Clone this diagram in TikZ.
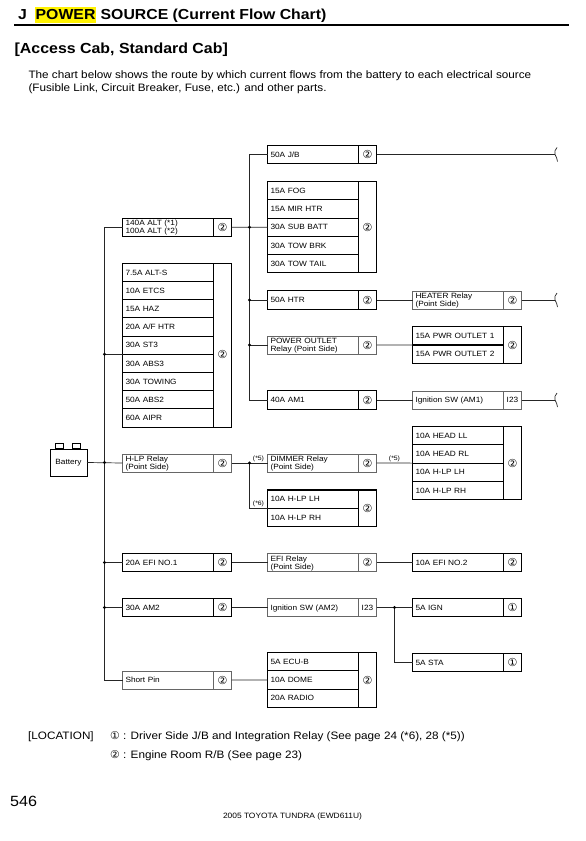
\documentclass[tikz,border=0pt]{standalone}
\usepackage{fontspec}
\setmainfont{Liberation Sans}[FakeStretch=1.09]
\newfontfamily\symfont{DejaVu Sans}
\usetikzlibrary{positioning}

\newcommand{\cellfont}{\fontsize{7.6}{8}\selectfont}
\newcommand{\locone}{{\symfont\fontsize{11}{11}\selectfont ①}}
\newcommand{\loctwo}{{\symfont\fontsize{11}{11}\selectfont ②}}

\tikzset{
  cell/.style={minimum height=18.2pt, inner xsep=3pt, inner ysep=0pt, outer sep=0pt,
    text width=85pt, align=left, text height=5.5pt, text depth=0pt, font=\cellfont},
  two/.style={text depth=8pt},
  fuse/.style={cell, draw, line width=1.1pt, anchor=west},
  relay/.style={cell, draw=black!60, line width=0.6pt, anchor=west},
  loc/.style={minimum width=18pt, minimum height=18.2pt, inner sep=0pt, outer sep=0pt, font=\cellfont},
  fuseloc/.style={loc, draw, line width=1.1pt, anchor=west},
  relayloc/.style={loc, draw=black!60, line width=0.6pt, anchor=west},
  wire/.style={draw=black!85, line width=0.7pt},
  dot/.style={circle, fill=black, inner sep=0pt, minimum size=3.2pt},
  note/.style={font=\fontsize{6.3}{6.3}\selectfont, inner sep=0.6pt, anchor=south},
  brk/.pic={\draw[wire] (2,-7) .. controls (-0.5,-5) and (-0.5,-2) .. (0,0) .. controls (0.5,2.5) and (3,4) .. (2.5,7);}
}

\begin{document}
\begin{tikzpicture}[x=1pt, y=-1pt]
\useasboundingbox (0,0) rectangle (586,841);

% heading
\node[anchor=base west, inner sep=0pt, font=\fontsize{14.5}{16}\selectfont\bfseries] (jlet) at (18,19) {J};
\node[anchor=base west, fill=yellow, inner xsep=0.5pt, inner ysep=0pt, text height=12.3pt, text depth=4.3pt,
  font=\fontsize{14.5}{16}\selectfont\bfseries] (power) at (35,19) {POWER};
\node[anchor=base west, inner sep=0pt, font=\fontsize{14.5}{16}\selectfont\bfseries] (ttl) at (power.base east) {\ SOURCE (Current Flow Chart)};
\draw[line width=1.7pt] (14,25) -- (568.5,25);
\node[anchor=base west, inner sep=0pt, font=\fontsize{14.6}{16}\selectfont\bfseries] (cab) at (14.5,53.3) {[Access Cab, Standard Cab]};
\node[anchor=base west, inner sep=0pt, font=\fontsize{10.75}{13}\selectfont] (par1) at (28.3,78.3)
  {The chart below shows the route by which current flows from the battery to each electrical source};
\node[anchor=base west, inner sep=0pt, font=\fontsize{10.75}{13}\selectfont] (par2) at (28.3,91.7)
  {(Fusible Link, Circuit Breaker, Fuse, etc.) and other parts.};

% bus lines
\coordinate (busA) at (104.5,0);
\coordinate (busB) at (249.5,0);
\coordinate (busC) at (394.5,0);
\coordinate (end1) at (555,154.5);
\coordinate (end2) at (555,300);
\coordinate (end3) at (555,400);

% battery
\node[draw, line width=0.9pt, minimum width=37pt, minimum height=27pt, inner sep=0pt, outer sep=0pt, font=\cellfont] (batt) at (68.5,462.5) {Battery};
\node[draw, line width=0.8pt, minimum width=8pt, minimum height=5pt, inner sep=0pt, anchor=south] (batt1) at ([xshift=-8.8pt]batt.north) {};
\node[draw, line width=0.8pt, minimum width=8pt, minimum height=5pt, inner sep=0pt, anchor=south] (batt2) at ([xshift=8.2pt]batt.north) {};

% first column
\node[fuse, two] (alt) at (122.5,227.2) {140A ALT (*1)\\100A ALT (*2)};
\node[fuseloc] (altL) at (alt.east) {\loctwo};
\foreach \t [count=\i] in {7.5A ALT-S,10A ETCS,15A HAZ,20A A/F HTR,30A ST3,30A ABS3,30A TOWING,50A ABS2,60A AIPR}
  \node[fuse, anchor=north west] (a\i) at (122.5,{263.3+(\i-1)*18.2}) {\t};
\node[fuseloc, anchor=north west, minimum height=9*18.2pt] (aL) at (a1.north east) {};
\node[loc] (aN) at (aL.center |- a5.south) {\loctwo};
\node[relay, two] (hlp) at (122.5,463) {H-LP Relay\\(Point Side)};
\node[relayloc] (hlpL) at (hlp.east) {\loctwo};
\node[fuse] (efi1) at (122.5,562.5) {20A EFI NO.1};
\node[fuseloc] (efi1L) at (efi1.east) {\loctwo};
\node[fuse] (am2) at (122.5,607.5) {30A AM2};
\node[fuseloc] (am2L) at (am2.east) {\loctwo};
\node[relay] (spin) at (122.5,680) {Short Pin};
\node[relayloc] (spinL) at (spin.east) {\loctwo};

% second column
\node[fuse] (jb) at (267.5,154.5) {50A J/B};
\node[fuseloc] (jbL) at (jb.east) {\loctwo};
\foreach \t [count=\i] in {15A FOG,15A MIR HTR,30A SUB BATT,30A TOW BRK,30A TOW TAIL}
  \node[fuse, anchor=north west] (b\i) at (267.5,{181.7+(\i-1)*18.2}) {\t};
\node[fuseloc, anchor=north west, minimum height=5*18.2pt] (bL) at (b1.north east) {\loctwo};
\node[fuse] (htr) at (267.5,300) {50A HTR};
\node[fuseloc] (htrL) at (htr.east) {\loctwo};
\node[relay, two] (po) at (267.5,345) {POWER OUTLET\\Relay (Point Side)};
\node[relayloc] (poL) at (po.east) {\loctwo};
\node[fuse] (am1) at (267.5,400) {40A AM1};
\node[fuseloc] (am1L) at (am1.east) {\loctwo};
\node[relay, two] (dim) at (267.5,463) {DIMMER Relay\\(Point Side)};
\node[relayloc] (dimL) at (dim.east) {\loctwo};
\foreach \t [count=\i] in {10A H-LP LH,10A H-LP RH}
  \node[fuse, anchor=north west] (h\i) at (267.5,{490+(\i-1)*18.2}) {\t};
\node[fuseloc, anchor=north west, minimum height=2*18.2pt] (hL) at (h1.north east) {\loctwo};
\node[relay, two] (efir) at (267.5,562.5) {EFI Relay\\(Point Side)};
\node[relayloc] (efirL) at (efir.east) {\loctwo};
\node[relay] (ig2) at (267.5,607.5) {Ignition SW (AM2)};
\node[relayloc] (ig2L) at (ig2.east) {I23};
\foreach \t [count=\i] in {5A ECU-B,10A DOME,20A RADIO}
  \node[fuse, anchor=north west] (e\i) at (267.5,{652.7+(\i-1)*18.2}) {\t};
\node[fuseloc, anchor=north west, minimum height=3*18.2pt] (eL) at (e1.north east) {\loctwo};

% third column
\node[relay, two] (heat) at (412.5,300) {HEATER Relay\\(Point Side)};
\node[relayloc] (heatL) at (heat.east) {\loctwo};
\foreach \t [count=\i] in {15A PWR OUTLET 1,15A PWR OUTLET 2}
  \node[fuse, anchor=north west] (p\i) at (412.5,{326.8+(\i-1)*18.2}) {\t};
\node[fuseloc, anchor=north west, minimum height=2*18.2pt] (pL) at (p1.north east) {\loctwo};
\node[relay] (ig1) at (412.5,400) {Ignition SW (AM1)};
\node[relayloc] (ig1L) at (ig1.east) {I23};
\foreach \t [count=\i] in {10A HEAD LL,10A HEAD RL,10A H-LP LH,10A H-LP RH}
  \node[fuse, anchor=north west] (c\i) at (412.5,{426.7+(\i-1)*18.2}) {\t};
\node[fuseloc, anchor=north west, minimum height=4*18.2pt] (cL) at (c1.north east) {\loctwo};
\node[fuse] (efi2) at (412.5,562.5) {10A EFI NO.2};
\node[fuseloc] (efi2L) at (efi2.east) {\loctwo};
\node[fuse] (ign) at (412.5,607.5) {5A IGN};
\node[fuseloc] (ignL) at (ign.east) {\locone};
\node[fuse] (sta) at (412.5,662.5) {5A STA};
\node[fuseloc] (staL) at (sta.east) {\locone};

% wires
\draw[wire] (alt.west) -| (busA |- spin.west) -- (spin.west);
\draw[wire] (batt.east) -- (hlp.west);
\draw[wire] (busA |- a5.south) -- (a5.south west);
\draw[wire] (busA |- efi1.west) -- (efi1.west);
\draw[wire] (busA |- am2.west) -- (am2.west);
\draw[wire] (jb.west) -| (busB |- am1.west) -- (am1.west);
\draw[wire] (altL.east) -- (b3.west);
\draw[wire] (busB |- htr.west) -- (htr.west);
\draw[wire] (busB |- po.west) -- (po.west);
\draw[wire] (jbL.east) -- (end1);
\draw[wire] (htrL.east) -- (heat.west);
\draw[wire] (heatL.east) -- (end2);
\draw[wire] (poL.east) -- (p1.south west);
\draw[wire] (am1L.east) -- (ig1.west);
\draw[wire] (ig1L.east) -- (end3);
\draw[wire] (hlpL.east) -- (dim.west);
\draw[wire] (busB |- dim.west) |- (h1.south west);
\draw[wire] (dimL.east) -- (c2.south west);
\draw[wire] (efi1L.east) -- (efir.west);
\draw[wire] (efirL.east) -- (efi2.west);
\draw[wire] (am2L.east) -- (ig2.west);
\draw[wire] (ig2L.east) -- (ign.west);
\draw[wire] (busC |- ign.west) |- (sta.west);
\draw[wire] (spinL.east) -- (e2.west);
\pic at (end1) {brk};
\pic at (end2) {brk};
\pic at (end3) {brk};

% junctions
\foreach \p in {a5.south, batt.east, efi1.west, am2.west}
  \node[dot] at (busA |- \p) {};
\foreach \p in {alt.east, htr.west, po.west, dim.west}
  \node[dot] at (busB |- \p) {};
\node[dot] at (busC |- ign.west) {};

% notes
\node[note] (n5a) at ([xshift=9pt, yshift=0.6pt]busB |- dim.west) {(*5)};
\node[note] (n6) at ([xshift=9pt, yshift=0.6pt]busB |- h1.south) {(*6)};
\node[note] (n5b) at ([yshift=0.6pt]busC |- dim.west) {(*5)};

% location
\node[anchor=base west, inner sep=0pt, font=\fontsize{10.75}{13}\selectfont] (locttl) at (28,739.3) {[LOCATION]};
\node[anchor=base west, inner sep=0pt, font=\fontsize{10.75}{13}\selectfont] (loc1) at (110,739.3)
  {{\symfont ①} : Driver Side J/B and Integration Relay (See page 24 (*6), 28 (*5))};
\node[anchor=base west, inner sep=0pt, font=\fontsize{10.75}{13}\selectfont] (loc2) at (110,758.3)
  {{\symfont ②} : Engine Room R/B (See page 23)};
\node[anchor=base west, inner sep=0pt, font=\fontsize{14.8}{16}\selectfont] (page) at (10,806) {546};
\node[anchor=base, inner sep=0pt, font=\fontsize{7.7}{9}\selectfont] (foot) at (292.5,818.5) {2005 TOYOTA TUNDRA (EWD611U)};
\end{tikzpicture}
\end{document}
